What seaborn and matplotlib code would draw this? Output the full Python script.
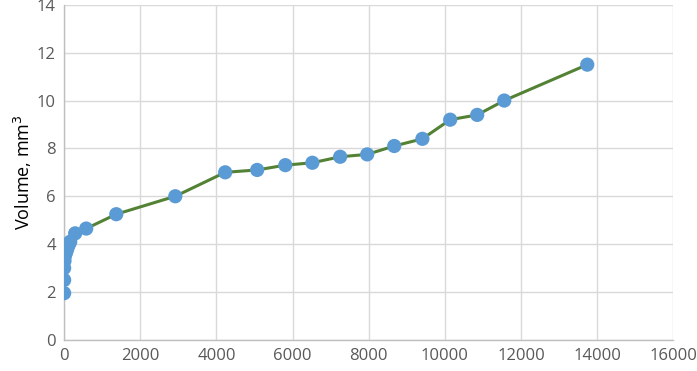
import numpy as np
import pandas as pd
import matplotlib
matplotlib.use("Agg")
import matplotlib.pyplot as plt
import seaborn as sns

# ── data ─────────────────────────────────────────────────────
time_s = [0, 0, 0, 10, 20, 40, 60, 80, 100, 130, 160,
          290, 580, 1370, 2920, 4230, 5070, 5810, 6520, 7250,
          7960, 8670, 9410, 10140, 10850, 11560, 13740]
volume = [1.95, 2.5, 3.0, 3.3, 3.5, 3.6, 3.7, 3.8, 3.9, 4.0, 4.1,
          4.45, 4.65, 5.25, 6.0, 7.0, 7.1, 7.3, 7.4, 7.65,
          7.75, 8.1, 8.4, 9.2, 9.4, 10.0, 11.5]

x_ticks = list(range(0, 16001, 2000))
y_ticks = list(range(0, 15, 2))

df = pd.DataFrame({"t": time_s, "v": volume})

sns.set_style("whitegrid", {"grid.color": "#d9d9d9", "axes.edgecolor": "#bfbfbf"})
plt.rcParams["font.family"] = ["Open Sans", "DejaVu Sans"]

fig = plt.figure(figsize=(6.97, 3.71), dpi=100)
ax = fig.add_axes([0.092, 0.084, 0.874, 0.903])

sns.lineplot(data=df, x="t", y="v", ax=ax, color="#548235", linewidth=2.2,
             sort=False, estimator=None, zorder=2)
sns.scatterplot(data=df, x="t", y="v", ax=ax, color="#5b9bd5", s=105,
                edgecolor="none", zorder=3)

ax.set_xlim(0, 16000)
ax.set_ylim(0, 14)
ax.set_xticks(x_ticks)
ax.set_yticks(y_ticks)
ax.set_xlabel("")
ax.set_ylabel("Volume, mm$^3$", fontsize=13, color="#000000", labelpad=2)
ax.tick_params(axis="both", labelsize=12, colors="#595959", length=0, pad=6)
ax.grid(True, color="#d9d9d9", linewidth=1)
for side in ["top", "right"]:
    ax.spines[side].set_visible(False)
for side in ["left", "bottom"]:
    ax.spines[side].set_color("#bfbfbf")
    ax.spines[side].set_linewidth(1)

fig.savefig("out.png", dpi=100)
